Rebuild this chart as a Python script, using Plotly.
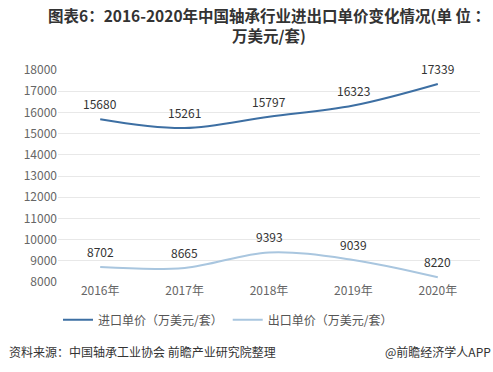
import plotly.graph_objects as go

years = ["2016年", "2017年", "2018年", "2019年", "2020年"]
import_price = [15680, 15261, 15797, 16323, 17339]
export_price = [8702, 8665, 9393, 9039, 8220]
y_ticks = [8000, 9000, 10000, 11000, 12000, 13000, 14000, 15000, 16000, 17000, 18000]

FONT = "Noto Sans CJK SC, Microsoft YaHei, sans-serif"

fig = go.Figure()
fig.add_trace(go.Scatter(
    x=years, y=import_price, mode="lines", name="进口单价（万美元/套）",
    line=dict(color="#3d6fa3", width=2, shape="spline", smoothing=1.0),
))
fig.add_trace(go.Scatter(
    x=years, y=export_price, mode="lines", name="出口单价（万美元/套）",
    line=dict(color="#a9c6df", width=2, shape="spline", smoothing=1.0),
))

for series in (import_price, export_price):
    for xv, yv in zip(years, series):
        fig.add_annotation(x=xv, y=yv, text=str(yv), showarrow=False,
                           xanchor="center", yanchor="bottom", yshift=5,
                           font=dict(size=12, color="#333333", family=FONT))

fig.update_layout(
    width=493, height=372,
    margin=dict(l=58, r=13, t=70, b=90),
    paper_bgcolor="white", plot_bgcolor="white",
    font=dict(family=FONT, color="#555555", size=12),
    xaxis=dict(showgrid=False, zeroline=False, showline=False, ticks="",
               range=[-0.5, 4.5],
               tickfont=dict(size=12, color="#666666")),
    yaxis=dict(range=[8000, 18000], tickvals=y_ticks,
               ticktext=[str(v) for v in y_ticks], showgrid=True,
               gridcolor="#e8e8e8", zeroline=False, showline=False,
               tickfont=dict(size=12, color="#666666"), ticksuffix="  "),
    legend=dict(orientation="h", x=0.0, y=-0.11, xanchor="left", yanchor="top",
                font=dict(size=12, color="#555555"), traceorder="normal",
                itemwidth=30),
    showlegend=True,
)

fig.add_annotation(
    text="<b>图表6：2016-2020年中国轴承行业进出口单价变化情况(单 位 ：<br>万美元/套)</b>",
    xref="paper", yref="paper", x=0.5, y=1.0, yshift=68, xanchor="center", yanchor="top",
    showarrow=False, align="center",
    font=dict(size=15.5, color="#333333", family=FONT),
)
fig.add_annotation(text="资料来源：中国轴承工业协会 前瞻产业研究院整理", xref="paper", yref="paper",
                   x=-0.12, y=-0.33, xanchor="left", yanchor="middle", showarrow=False,
                   font=dict(size=12, color="#333333", family=FONT))
fig.add_annotation(text="@前瞻经济学人APP", xref="paper", yref="paper",
                   x=1.03, y=-0.33, xanchor="right", yanchor="middle", showarrow=False,
                   font=dict(size=12, color="#333333", family=FONT))

fig.write_html("out.html")
